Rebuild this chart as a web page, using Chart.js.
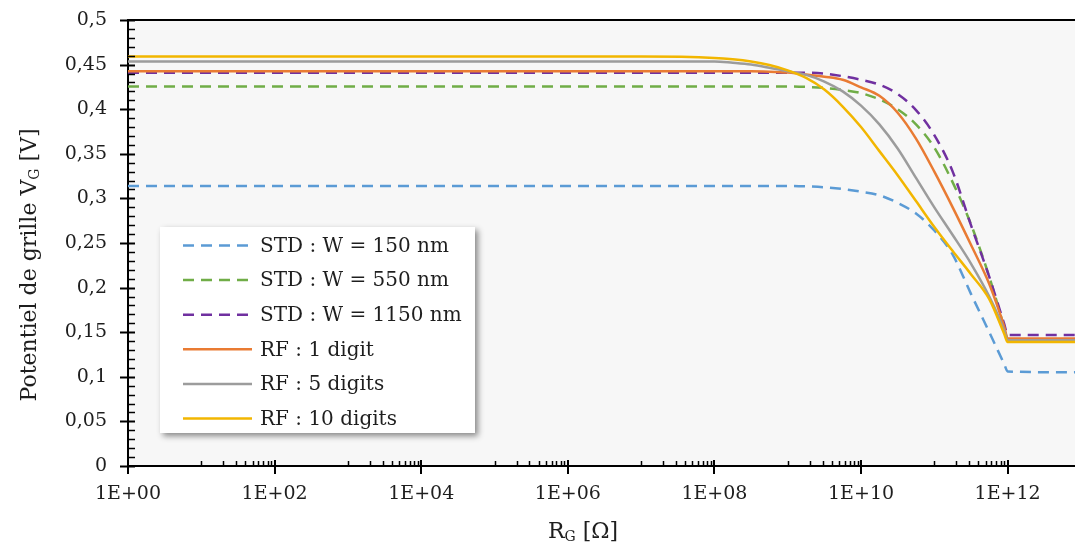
<!DOCTYPE html>
<html>
<head>
<meta charset="utf-8">
<title>Potentiel de grille en fonction de RG</title>
<script src="https://cdn.jsdelivr.net/npm/chart.js"></script>
<style>
    html, body { margin: 0; padding: 0; background: #ffffff; }
    #wrap { position: relative; width: 1075px; height: 543px; }
</style>
</head>
<body>
<div id="wrap"><canvas id="chart"></canvas></div>
<script>
// R_G in ohms (log axis)
const rgValues = [1, 1e7, 1e8, 1.78e8, 3.16e8, 5.62e8, 1e9, 1.78e9, 3.16e9, 5.62e9,
    1e10, 1.78e10, 3.16e10, 5.62e10, 1e11, 1.78e11, 3.16e11, 5.62e11, 9e11, 1e12, 1e13];

// V_G in volts, one value per R_G point
const std150 = [0.314, 0.314, 0.314, 0.314, 0.314, 0.314, 0.314, 0.3135, 0.3125, 0.3105,
    0.3075, 0.3035, 0.295, 0.283, 0.264, 0.237, 0.193, 0.150, 0.114, 0.106, 0.105];
const std550 = [0.4255, 0.4255, 0.4255, 0.4255, 0.4255, 0.4255, 0.4255, 0.425, 0.4238, 0.4215,
    0.418, 0.411, 0.400, 0.383, 0.357, 0.318, 0.271, 0.212, 0.155, 0.142, 0.142];
const std1150 = [0.441, 0.441, 0.441, 0.441, 0.441, 0.441, 0.441, 0.441, 0.440, 0.437,
    0.433, 0.4275, 0.417, 0.399, 0.371, 0.330, 0.270, 0.212, 0.159, 0.147, 0.147];
const rf1 = [0.4425, 0.4425, 0.4425, 0.4425, 0.4425, 0.442, 0.441, 0.439, 0.4365, 0.433,
    0.4245, 0.415, 0.396, 0.367, 0.330, 0.290, 0.248, 0.204, 0.156, 0.143, 0.143];
const rf5 = [0.4535, 0.4535, 0.4535, 0.452, 0.450, 0.4465, 0.4425, 0.4385, 0.431, 0.420,
    0.404, 0.383, 0.356, 0.323, 0.290, 0.259, 0.227, 0.190, 0.152, 0.141, 0.141];
const rf10 = [0.459, 0.459, 0.4575, 0.456, 0.4535, 0.4495, 0.4435, 0.435, 0.422, 0.403,
    0.380, 0.353, 0.326, 0.297, 0.268, 0.241, 0.215, 0.187, 0.148, 0.139, 0.139];

const seriesNames = ['STD : W = 150 nm', 'STD : W = 550 nm', 'STD : W = 1150 nm',
    'RF : 1 digit', 'RF : 5 digits', 'RF : 10 digits'];
const seriesData = [std150, std550, std1150, rf1, rf5, rf10];

// axis ticks
const xTickValues = [1e0, 1e2, 1e4, 1e6, 1e8, 1e10, 1e12];
const xMin = 1;
const xMax = 8.3e12;
const yMin = 0;
const yMax = 0.5;
const yStep = 0.05;

const colors = ['#5b9bd5', '#70ad47', '#7030a0', '#e97b33', '#9c9c9c', '#f2b600'];
const dashed = [true, true, true, false, false, false];
const FONT = '"DejaVu Serif", "Liberation Serif", serif';
const TEXT = '#1e1e1e';

function fmtY(v) {
    return String(parseFloat(Number(v).toFixed(2))).replace('.', ',');
}

function fmtX(v) {
    const e = Math.round(Math.log10(v));
    return '1E+' + String(e).padStart(2, '0');
}

// text with a subscript part: parts = [[text, isSub], ...]
function drawSubText(ctx, parts, x, y, size) {
    const subSize = Math.round(size * 0.62);
    let total = 0;
    parts.forEach(p => {
        ctx.font = (p[1] ? subSize : size) + 'px ' + FONT;
        total += ctx.measureText(p[0]).width;
    });
    let cx = x - total / 2;
    ctx.textAlign = 'left';
    ctx.textBaseline = 'alphabetic';
    parts.forEach(p => {
        ctx.font = (p[1] ? subSize : size) + 'px ' + FONT;
        ctx.fillText(p[0], cx, p[1] ? y + size * 0.14 : y);
        cx += ctx.measureText(p[0]).width;
    });
}

const decor = {
    id: 'decor',
    beforeDraw(chart) {
        const { ctx, chartArea: a } = chart;
        ctx.save();
        ctx.fillStyle = '#f7f7f7';
        ctx.fillRect(a.left, a.top, a.right - a.left, a.bottom - a.top);
        ctx.restore();
    },
    afterDraw(chart) {
        const { ctx, chartArea: a } = chart;
        const xs = chart.scales.x;
        const ys = chart.scales.y;
        ctx.save();
        ctx.strokeStyle = '#000';

        // top border of plot area
        ctx.lineWidth = 2;
        ctx.beginPath();
        ctx.moveTo(a.left, a.top);
        ctx.lineTo(a.right, a.top);
        ctx.stroke();

        // y ticks: major every 0.05, minor every 0.01
        for (let i = 0; i <= 50; i++) {
            const py = Math.round(ys.getPixelForValue(i / 100)) + 0.5;
            const major = i % 5 === 0;
            ctx.lineWidth = major ? 2 : 1.5;
            ctx.beginPath();
            ctx.moveTo(major ? a.left - 8 : a.left, py);
            ctx.lineTo(a.left + 7, py);
            ctx.stroke();
        }

        // x ticks: major at even powers, minor at m * 10^(2k+1)
        xTickValues.forEach(v => {
            const px = Math.round(xs.getPixelForValue(v));
            ctx.lineWidth = 2;
            ctx.beginPath();
            ctx.moveTo(px, a.bottom - 6);
            ctx.lineTo(px, a.bottom + 8);
            ctx.stroke();
        });
        ctx.lineWidth = 1.5;
        for (let k = 0; k < 6; k++) {
            for (let m = 1; m <= 9; m++) {
                const v = m * Math.pow(10, 2 * k + 1);
                if (v > xMax) continue;
                const px = Math.round(xs.getPixelForValue(v)) + 0.5;
                ctx.beginPath();
                ctx.moveTo(px, a.bottom - 5);
                ctx.lineTo(px, a.bottom);
                ctx.stroke();
            }
        }

        // axis titles
        ctx.fillStyle = TEXT;
        drawSubText(ctx, [['R', false], ['G', true], [' [\u03a9]', false]], 583, 538, 22);
        ctx.save();
        ctx.translate(36, 265);
        ctx.rotate(-Math.PI / 2);
        drawSubText(ctx, [['Potentiel de grille V', false], ['G', true], [' [V]', false]], 0, 0, 22);
        ctx.restore();

        // legend box
        const box = { x: 160, y: 227, w: 315, h: 206 };
        ctx.save();
        ctx.shadowColor = 'rgba(0, 0, 0, 0.45)';
        ctx.shadowBlur = 6;
        ctx.shadowOffsetX = 3;
        ctx.shadowOffsetY = 3;
        ctx.fillStyle = '#ffffff';
        ctx.fillRect(box.x, box.y, box.w, box.h);
        ctx.restore();

        chart.data.datasets.forEach((ds, i) => {
            const ry = 245.5 + i * 34.6;
            ctx.strokeStyle = ds.borderColor;
            ctx.lineWidth = 2.5;
            ctx.setLineDash(ds.borderDash || []);
            ctx.beginPath();
            ctx.moveTo(183, ry);
            ctx.lineTo(252, ry);
            ctx.stroke();
            ctx.setLineDash([]);
            ctx.fillStyle = TEXT;
            ctx.font = '20px ' + FONT;
            ctx.textAlign = 'left';
            ctx.textBaseline = 'middle';
            ctx.fillText(ds.label, 260, ry + 1);
        });
        ctx.restore();
    }
};

const datasets = seriesNames.map((name, i) => ({
    label: name,
    data: rgValues.map((x, j) => ({ x: x, y: seriesData[i][j] })),
    borderColor: colors[i],
    backgroundColor: colors[i],
    borderWidth: 2.5,
    borderDash: dashed[i] ? [11, 7] : [],
    pointRadius: 0,
    fill: false,
    cubicInterpolationMode: 'monotone',
    order: seriesNames.length - i
}));

new Chart(document.getElementById('chart'), {
    type: 'line',
    data: { datasets: datasets },
    options: {
        responsive: true,
        maintainAspectRatio: false,
        animation: false,
        events: [],
        layout: { padding: { top: 20, right: 0, bottom: 0, left: 0 } },
        plugins: {
            legend: { display: false },
            tooltip: { enabled: false }
        },
        scales: {
            x: {
                type: 'logarithmic',
                min: xMin,
                max: xMax,
                grid: { display: false, drawTicks: false },
                border: { display: true, color: '#000', width: 2 },
                afterBuildTicks: scale => {
                    scale.ticks = xTickValues.map(v => ({ value: v }));
                },
                afterFit: scale => {
                    scale.height = 77;
                    scale.paddingLeft = 0;
                    scale.paddingRight = 0;
                },
                ticks: {
                    autoSkip: false,
                    maxRotation: 0,
                    padding: 17,
                    color: TEXT,
                    font: { family: FONT, size: 19 },
                    callback: v => fmtX(v)
                }
            },
            y: {
                type: 'linear',
                min: yMin,
                max: yMax,
                grid: { display: false, drawTicks: false },
                border: { display: true, color: '#000', width: 2 },
                afterFit: scale => {
                    scale.width = 128;
                    scale.paddingTop = 0;
                    scale.paddingBottom = 0;
                },
                ticks: {
                    stepSize: yStep,
                    padding: 21,
                    color: TEXT,
                    font: { family: FONT, size: 19 },
                    callback: v => fmtY(v)
                }
            }
        }
    },
    plugins: [decor]
});
</script>
</body>
</html>
